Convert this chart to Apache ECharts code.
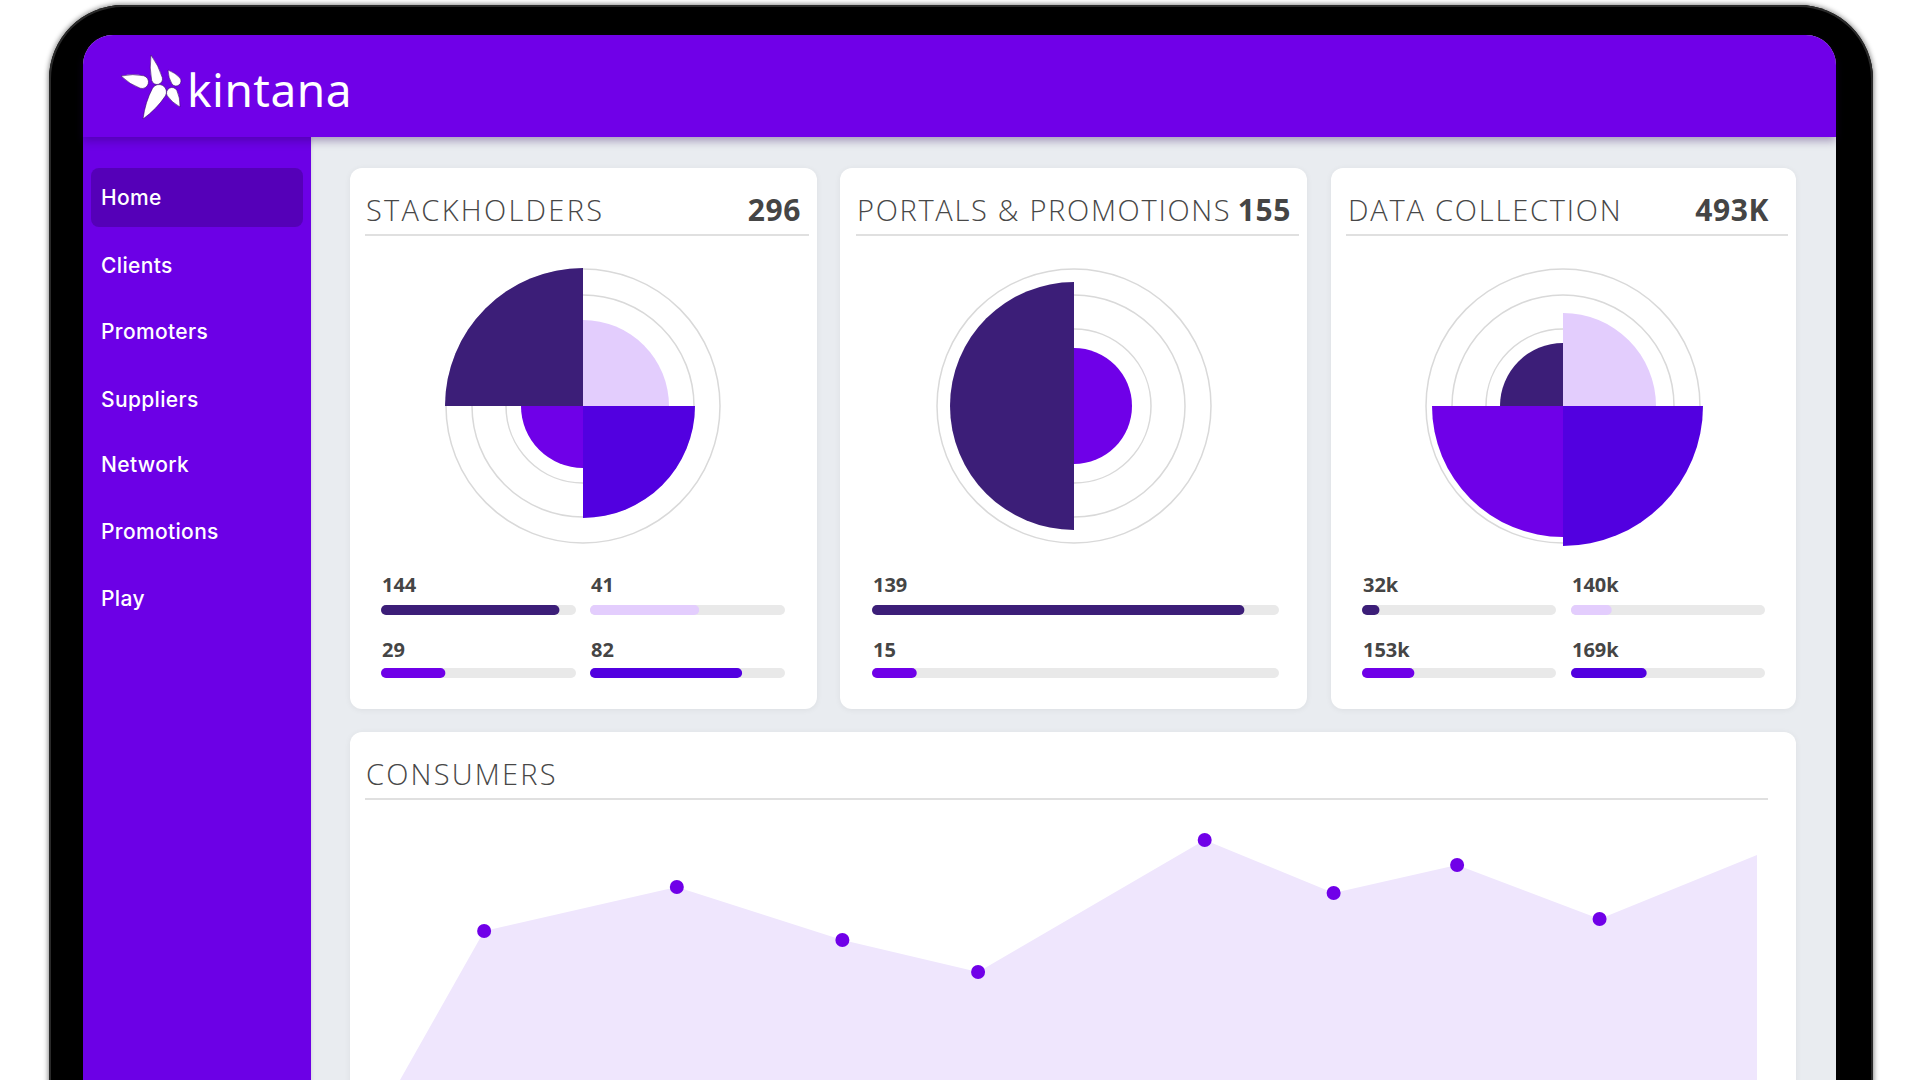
<!DOCTYPE html>
<html><head><meta charset="utf-8">
<script src="https://cdn.jsdelivr.net/npm/echarts@6/dist/echarts.min.js"></script>
<style>
html,body{margin:0;padding:0;}
body{width:1920px;height:1080px;overflow:hidden;background:#fff;position:relative;font-family:"Open Sans",sans-serif;}
.abs{position:absolute;}
#frame{left:49px;top:5px;width:1824px;height:1160px;background:#000;border-radius:74px;box-shadow:0 0 5px 1px rgba(0,0,0,0.45), inset 0 0 0 2px #2a2a2a;}
#screen{left:83px;top:35px;width:1753px;height:1100px;background:#e9ecf0;border-radius:30px 30px 0 0;}
#header{left:83px;top:35px;width:1753px;height:102px;background:#7000e8;border-radius:30px 30px 0 0;box-shadow:0 4px 8px rgba(40,0,90,0.35);z-index:3;}
#sidebar{left:83px;top:137px;width:228px;height:960px;background:#6c00e6;z-index:2;box-shadow:1px 0 3px rgba(0,0,0,0.08);}
#home{left:91px;top:168px;width:212px;height:59px;background:#5500b8;border-radius:8px;z-index:2;}
.menu{position:absolute;left:101px;color:#fff;font-family:"Inter",sans-serif;font-weight:500;font-size:21px;line-height:30px;height:30px;z-index:4;letter-spacing:0.35px;}
.card{position:absolute;background:#fff;border-radius:12px;box-shadow:0 1px 6px rgba(0,0,0,0.06);z-index:1;}
.title{position:absolute;font-family:"Open Sans",sans-serif;font-weight:300;font-size:29px;line-height:40px;height:40px;color:#474747;letter-spacing:2px;white-space:nowrap;z-index:2;}
.total{position:absolute;font-family:"Open Sans",sans-serif;font-weight:700;font-size:30px;line-height:40px;height:40px;color:#454545;text-align:right;white-space:nowrap;z-index:2;letter-spacing:0.6px;}
.divider{position:absolute;height:2px;background:#e0e0e0;z-index:2;}
.lbl{position:absolute;font-family:"Open Sans",sans-serif;font-weight:700;font-size:20px;line-height:24px;height:24px;color:#454545;z-index:2;white-space:nowrap;}
#logoText{left:187px;top:59px;font-family:"Noto Sans",sans-serif;font-size:46px;line-height:60px;color:#fff;z-index:5;letter-spacing:0.5px;}
#chart{position:absolute;left:0;top:0;width:1920px;height:1080px;z-index:6;}
</style></head>
<body>
<div id="frame" class="abs"></div>
<div id="screen" class="abs"></div>
<div id="header" class="abs"></div>
<div id="sidebar" class="abs"></div>
<div id="home" class="abs"></div>
<svg id="logoStar" class="abs" style="left:0;top:0;z-index:5" width="260" height="140"></svg>
<div id="logoText" class="abs">kintana</div>
<div id="chart"></div>
<script>
// ---------------- DATA ----------------
const menuItems = ['Home', 'Clients', 'Promoters', 'Suppliers', 'Network', 'Promotions', 'Play'];
const cardTitles = ['STACKHOLDERS', 'PORTALS & PROMOTIONS', 'DATA COLLECTION'];
const cardTotals = ['296', '155', '493K'];
const consumersTitle = 'CONSUMERS';

// Stackholders (order: dark, light, purple, blue)
const stackLabels  = ['144', '41', '29', '82'];
const stackBars    = [91.5, 56, 33, 78];      // progress fill, % of track
const stackSectors = [138, 86, 62, 112];      // polar sector length (radius units)

// Portals & Promotions (order: dark, purple)
const portalLabels  = ['139', '15'];
const portalBars    = [91.5, 11];
const portalSectors = [124, 58];

// Data collection (order: dark, light, purple, blue)
const dataLabels  = ['32k', '140k', '153k', '169k'];
const dataBars    = [9, 21, 27, 39];
const dataSectors = [63, 93, 131, 140];

// Consumers area line
const consumersX = [0, 6.2, 20.4, 32.6, 42.6, 59.3, 68.8, 77.9, 88.4, 100];
const consumersY = [0, 74.5, 96.5, 70, 54, 120, 93.5, 107.5, 80.5, 112.5];

// ---------------- LAYOUT / STYLE ----------------
const PAL = {dark: '#3c1e78', light: '#e3cdfd', purple: '#6f00e8', blue: '#5200e0'};
const RING_COLOR = '#d9d9d9';
const RINGS = [137, 111, 77];
const SECTOR_MAX = 140;
const ROW_BAR_Y = [610, 673];
const ROW_LABEL_Y = [585, 650];

const cards = [
  {left: 350, top: 168, w: 467, h: 541, titleX: 366, titleLS: 2.3, totalR: 801, divX: [365, 809],
   center: [583, 406], keys: ['dark', 'light', 'purple', 'blue'], labels: stackLabels, bars: stackBars, sectors: stackSectors,
   quad: [1, 3, 2, 0],
   barPos: [{x: 381, w: 195, row: 0}, {x: 590, w: 195, row: 0}, {x: 381, w: 195, row: 1}, {x: 590, w: 195, row: 1}]},
  {left: 840, top: 168, w: 467, h: 541, titleX: 857, titleLS: 1.7, totalR: 1291, divX: [856, 1299],
   center: [1074, 406], keys: ['dark', 'purple'], labels: portalLabels, bars: portalBars, sectors: portalSectors,
   quad: [1, 0],
   barPos: [{x: 872, w: 407, row: 0}, {x: 872, w: 407, row: 1}]},
  {left: 1331, top: 168, w: 465, h: 541, titleX: 1348, titleLS: 1.8, totalR: 1769, divX: [1346, 1788],
   center: [1563, 406], keys: ['dark', 'light', 'purple', 'blue'], labels: dataLabels, bars: dataBars, sectors: dataSectors,
   quad: [1, 3, 2, 0],
   barPos: [{x: 1362, w: 194, row: 0}, {x: 1571, w: 194, row: 0}, {x: 1362, w: 194, row: 1}, {x: 1571, w: 194, row: 1}]}
];

function el(cls, style, text) {
  const d = document.createElement('div');
  d.className = cls;
  Object.assign(d.style, style);
  if (text != null) d.textContent = text;
  document.body.appendChild(d);
  return d;
}

// menu
const menuY = [197.5, 265.5, 331.5, 399.5, 464.5, 531.5, 598.5];
menuItems.forEach((m, i) => el('menu', {top: (menuY[i] - 15) + 'px'}, m));

// cards
cards.forEach((c, i) => {
  el('card', {left: c.left + 'px', top: c.top + 'px', width: c.w + 'px', height: c.h + 'px'});
  el('title', {left: c.titleX + 'px', top: (210 - 20) + 'px', letterSpacing: c.titleLS + 'px'}, cardTitles[i]);
  el('total', {right: (1920 - c.totalR) + 'px', top: (210 - 20) + 'px'}, cardTotals[i]);
  el('divider', {left: c.divX[0] + 'px', top: '234px', width: (c.divX[1] - c.divX[0]) + 'px'});
  c.barPos.forEach((b, j) => {
    el('lbl', {left: (b.x + 1) + 'px', top: (ROW_LABEL_Y[b.row] - 12) + 'px'}, c.labels[j]);
  });
});
el('card', {left: '350px', top: '732px', width: '1446px', height: '420px'});
el('title', {left: '366px', top: (774 - 20) + 'px', letterSpacing: '2.2px'}, consumersTitle);
el('divider', {left: '365px', top: '798px', width: (1768 - 365) + 'px'});

// logo star petals (decoration)
(function () {
  const svg = document.getElementById('logoStar');
  const petals = [
    {t: [121, 76], c: [142, 82], r: 6.5},
    {t: [151, 55], c: [157, 79], r: 5.5},
    {t: [143, 119], c: [159, 92], r: 7.5},
    {t: [168, 70], c: [176, 81], r: 5},
    {t: [180, 107], c: [172, 93], r: 5.5}
  ];
  let html = '';
  petals.forEach(p => {
    const dx = p.c[0] - p.t[0], dy = p.c[1] - p.t[1];
    const L = Math.hypot(dx, dy), ux = dx / L, uy = dy / L, px = -uy, py = ux;
    const A = [p.c[0] + px * p.r, p.c[1] + py * p.r], B = [p.c[0] - px * p.r, p.c[1] - py * p.r];
    const m1 = [p.t[0] + dx * 0.5 + px * p.r * 0.9, p.t[1] + dy * 0.5 + py * p.r * 0.9];
    const m2 = [p.t[0] + dx * 0.5 - px * p.r * 0.9, p.t[1] + dy * 0.5 - py * p.r * 0.9];
    html += `<path d="M${p.t[0]},${p.t[1]} Q${m1[0]},${m1[1]} ${A[0]},${A[1]} A${p.r},${p.r} 0 0 0 ${B[0]},${B[1]} Q${m2[0]},${m2[1]} ${p.t[0]},${p.t[1]} Z" fill="#fff" stroke="#3a0a6a" stroke-width="0.6"/>`;
  });
  svg.innerHTML = html;
})();

// ---------------- ECHARTS ----------------
const polar = [], angleAxis = [], radiusAxis = [], grid = [], xAxis = [], yAxis = [], series = [];

function addRing(center, r) {
  const idx = polar.length;
  polar.push({center: center, radius: r});
  angleAxis.push({polarIndex: idx, type: 'value', min: 0, max: 360, startAngle: 90,
    axisLine: {show: true, lineStyle: {color: RING_COLOR, width: 1.5}},
    axisTick: {show: false}, axisLabel: {show: false}, splitLine: {show: false}, splitArea: {show: false}});
  radiusAxis.push({polarIndex: idx, type: 'value', min: 0, max: r, show: false});
}

cards.forEach(c => {
  RINGS.forEach(r => addRing(c.center, r));
  const idx = polar.length;
  polar.push({center: c.center, radius: SECTOR_MAX});
  angleAxis.push({polarIndex: idx, type: 'category', data: c.quad.map(q => c.keys[q]), startAngle: 90, clockwise: true,
    axisLine: {show: false}, axisTick: {show: false}, axisLabel: {show: false}, splitLine: {show: false}, splitArea: {show: false}});
  radiusAxis.push({polarIndex: idx, type: 'value', min: 0, max: SECTOR_MAX, show: false});
  series.push({type: 'bar', coordinateSystem: 'polar', polarIndex: idx, barCategoryGap: '0%', silent: true, z: 5,
    data: c.quad.map(q => ({value: c.sectors[q], itemStyle: {color: PAL[c.keys[q]]}}))});

  c.barPos.forEach((b, j) => {
    const g = grid.length;
    grid.push({left: b.x, top: ROW_BAR_Y[b.row] - 5, width: b.w, height: 10});
    xAxis.push({gridIndex: g, type: 'value', min: 0, max: 100, show: false});
    yAxis.push({gridIndex: g, type: 'category', data: [c.keys[j]], show: false});
    series.push({type: 'bar', xAxisIndex: g, yAxisIndex: g, barWidth: 10, silent: true,
      showBackground: true, backgroundStyle: {color: '#e9e9e9', borderRadius: 5},
      itemStyle: {borderRadius: 5, color: PAL[c.keys[j]]},
      data: [c.bars[j]]});
  });
});

// consumers
const gc = grid.length;
grid.push({left: 400, top: 800, width: 1357, height: 280});
xAxis.push({gridIndex: gc, type: 'value', min: 0, max: 100, show: false});
yAxis.push({gridIndex: gc, type: 'value', min: 0, max: 140, show: false});
series.push({type: 'line', xAxisIndex: gc, yAxisIndex: gc, silent: true,
  symbol: 'circle', symbolSize: 14, itemStyle: {color: '#7000e8'},
  lineStyle: {width: 0, color: '#efe6fd'},
  areaStyle: {color: '#efe6fd', opacity: 1},
  data: consumersX.map((x, i) => {
    const d = {value: [x, consumersY[i]]};
    if (i === 0 || i === consumersX.length - 1) d.symbol = 'none';
    return d;
  })});

const chart = echarts.init(document.getElementById('chart'), null, {width: 1920, height: 1080});
chart.setOption({
  backgroundColor: 'transparent',
  animation: false,
  polar, angleAxis, radiusAxis, grid, xAxis, yAxis, series
});
</script>
</body></html>
